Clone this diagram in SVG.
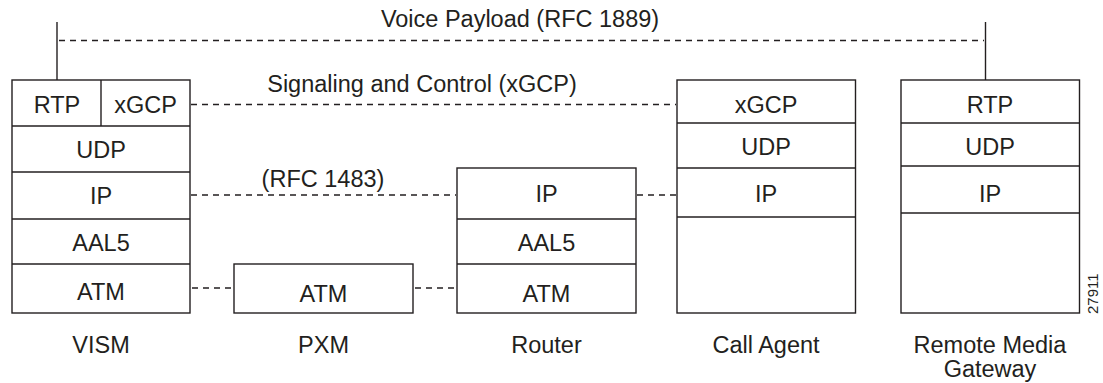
<svg xmlns="http://www.w3.org/2000/svg" width="1103" height="383" viewBox="0 0 1103 383">
<style>
.box{fill:#fff;stroke:#231f20;stroke-width:1.4}
.ln{stroke:#231f20;stroke-width:1.4;fill:none}
.dash{stroke:#231f20;stroke-width:1.3;fill:none;stroke-dasharray:6 5}
text{font-family:"Liberation Sans",Arial,sans-serif;font-size:23.5px;fill:#231f20;text-anchor:middle}
</style>
<rect width="1103" height="383" fill="#fff"/>
<g id="connectors">
<line class="ln" x1="57" y1="22" x2="57" y2="80"/>
<line class="ln" x1="985.5" y1="22" x2="985.5" y2="80"/>
<line class="dash" x1="59" y1="40.5" x2="984" y2="40.5"/>
<line class="dash" x1="191" y1="104.5" x2="676" y2="104.5"/>
<line class="dash" x1="191" y1="195" x2="456" y2="195"/>
<line class="dash" x1="637" y1="195" x2="676" y2="195"/>
<line class="dash" x1="192" y1="288" x2="233" y2="288"/>
<line class="dash" x1="415" y1="288" x2="456" y2="288"/>
<text x="520" y="27">Voice Payload (RFC 1889)</text>
<text x="422" y="92">Signaling and Control (xGCP)</text>
<text x="323" y="187">(RFC 1483)</text>
</g>
<g id="vism">
<rect class="box" x="12" y="80" width="178" height="233"/>
<line class="ln" x1="101" y1="80" x2="101" y2="126"/>
<line class="ln" x1="12" y1="126" x2="190" y2="126"/>
<line class="ln" x1="12" y1="172" x2="190" y2="172"/>
<line class="ln" x1="12" y1="219" x2="190" y2="219"/>
<line class="ln" x1="12" y1="264" x2="190" y2="264"/>
<text x="57" y="113">RTP</text>
<text x="145.5" y="113">xGCP</text>
<text x="101" y="158">UDP</text>
<text x="101" y="203.5">IP</text>
<text x="101" y="251">AAL5</text>
<text x="101" y="299.5">ATM</text>
<text x="101" y="353">VISM</text>
</g>
<g id="pxm">
<rect class="box" x="234" y="264" width="179" height="49"/>
<text x="323.5" y="301.5">ATM</text>
<text x="323.5" y="353">PXM</text>
</g>
<g id="router">
<rect class="box" x="457" y="168" width="179" height="145"/>
<line class="ln" x1="457" y1="219" x2="636" y2="219"/>
<line class="ln" x1="457" y1="264" x2="636" y2="264"/>
<text x="546.5" y="202">IP</text>
<text x="546.5" y="251">AAL5</text>
<text x="546.5" y="301.5">ATM</text>
<text x="546.5" y="353">Router</text>
</g>
<g id="callagent">
<rect class="box" x="677" y="80" width="178.5" height="233"/>
<line class="ln" x1="677" y1="123" x2="855.5" y2="123"/>
<line class="ln" x1="677" y1="168" x2="855.5" y2="168"/>
<line class="ln" x1="677" y1="217" x2="855.5" y2="217"/>
<text x="766" y="112.5">xGCP</text>
<text x="766" y="155">UDP</text>
<text x="766" y="202">IP</text>
<text x="766" y="353">Call Agent</text>
</g>
<g id="rmg">
<rect class="box" x="901" y="80" width="178.5" height="233"/>
<line class="ln" x1="901" y1="123" x2="1079.5" y2="123"/>
<line class="ln" x1="901" y1="166" x2="1079.5" y2="166"/>
<line class="ln" x1="901" y1="213" x2="1079.5" y2="213"/>
<text x="990" y="112.5">RTP</text>
<text x="990" y="155">UDP</text>
<text x="990" y="202">IP</text>
<text x="990" y="353">Remote Media</text>
<text x="990" y="377">Gateway</text>
</g>
<text x="0" y="0" transform="translate(1097.5,314) rotate(-90)" style="font-size:15px;text-anchor:start">27911</text>
</svg>
